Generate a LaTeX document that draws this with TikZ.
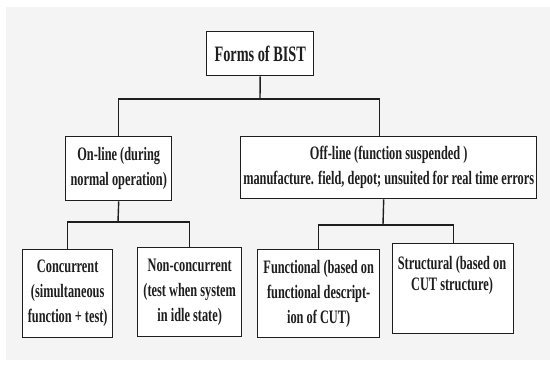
\documentclass[tikz,border=0pt]{standalone}
\usepackage{fontspec}
\setmainfont{Liberation Serif}[FakeStretch=0.65]

\tikzset{every picture/.style={line width=0.75pt}}
\definecolor{bggray}{RGB}{244,244,244}
\definecolor{inkgray}{RGB}{30,30,30}
\tikzset{
  formbox/.style={draw=inkgray, line width=1.4pt, fill=white, anchor=north west,
    align=center, inner sep=0pt, text=inkgray,
    font=\bfseries\fontsize{19}{25}\selectfont},
  formtext/.style={align=center, inner sep=0pt, text=inkgray,
    font=\bfseries\fontsize{19}{21}\selectfont},
  link/.style={draw=inkgray, line width=1.4pt},
}

\begin{document}
\begin{tikzpicture}[x=1pt,y=1pt,yscale=-1,xscale=1]
\useasboundingbox (0,0) rectangle (550,369);
% Background
\fill [bggray] (6,7) rectangle (550,360);

% Text Node
\node (bist) [formbox, minimum width=107, minimum height=44, font=\bfseries\fontsize{22}{25}\selectfont] at (206,31) {Forms of BIST};
% Text Node
\node (online) [formbox, minimum width=106, minimum height=64] at (65,136) {On-line (during\\normal operation)};
% Text Node
\node (offline) [formbox, minimum width=296, minimum height=62] at (240,136) {Off-line (function suspended )\\manufacture. field, depot; unsuited for real time errors};
% Text Node
\node (conc) [formbox, minimum width=90, minimum height=88] at (22,249) {Concurrent\\(simultaneous\\function + test)};
% Text Node
\node (nonconc) [formbox, minimum width=104, minimum height=89] at (137,247) {Non-concurrent\\(test when system\\in idle state)};
% Text Node
\node (func) [formbox, minimum width=122, minimum height=88] at (257,249) {Functional (based on\\functional descript-\\ion of CUT)};
% Text Node
\node (struct) [formbox, minimum width=121, minimum height=90] at (392,243) {};
\node (structtxt) [formtext, anchor=north] at (452,256) {Structural (based on\\CUT structure)};

%Straight Lines
\coordinate (j1) at (260,99);
\draw [link] (bist.south) -- (j1);
\draw [link] (online.north) |- (j1) -| ([xshift=-9pt]offline.north);
%Straight Lines
\coordinate (j2) at (118,222);
\draw [link] (online.south) -- (j2);
\draw [link] (conc.north) |- (j2) -| (nonconc.north);
%Straight Lines
\coordinate (j3) at (383,225);
\draw [link] ([xshift=-5pt]offline.south) -- (j3);
\draw [link] (func.north) |- (j3) -| (struct.north);

\end{tikzpicture}
\end{document}
